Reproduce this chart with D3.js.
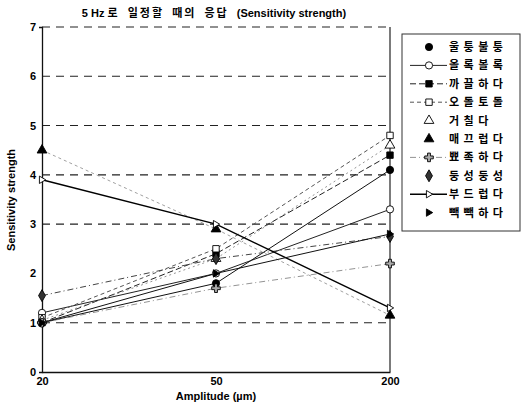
<!DOCTYPE html>
<html>
<head>
<meta charset="utf-8">
<script src="https://cdn.jsdelivr.net/npm/d3@7"></script>
<style>
  body { margin: 0; background: #fff; }
  svg { display: block; font-family: Arial, "Liberation Sans", "Noto Sans CJK KR", sans-serif; }
</style>
</head>
<body>
<svg id="chart" width="525" height="410"></svg>
<script>
// Amplitude levels (categorical axis)
const amplitudes = ["20", "50", "200"];
const yTicks = [0, 1, 2, 3, 4, 5, 6, 7];
const gridValues = [1, 3, 4, 5, 6, 7];

// Series names and their responses at 20, 50, 200 µm
const seriesNames = ["울퉁불퉁", "올록볼록", "까끌하다", "오돌토돌", "거칠다", "매끄럽다", "뾰족하다", "둥성둥성", "부드럽다", "빽빽하다"];
const bumpy    = [1.0, 1.8, 4.1];
const embossed = [1.2, 2.0, 3.3];
const rough1   = [1.0, 2.4, 4.4];
const grainy   = [1.1, 2.5, 4.8];
const coarse   = [1.05, 2.3, 4.6];
const smooth   = [4.5, 2.9, 1.15];
const pointy   = [1.0, 1.7, 2.2];
const sparse   = [1.55, 2.3, 2.75];
const soft     = [3.9, 3.0, 1.3];
const dense    = [1.0, 2.0, 2.8];
const seriesValues = [bumpy, embossed, rough1, grainy, coarse, smooth, pointy, sparse, soft, dense];

// Line / marker styling per series
const styles = [
  { sym: "circle",  fill: "#000", dash: null,    stroke: "#111", w: 1.0, legendLine: false },
  { sym: "circle",  fill: "#fff", dash: null,    stroke: "#222", w: 1.0, legendLine: true },
  { sym: "square",  fill: "#000", dash: "6,3",   stroke: "#222", w: 1.0, legendLine: true },
  { sym: "square",  fill: "#fff", dash: "4,3",   stroke: "#555", w: 1.0, legendLine: true },
  { sym: "triangle",fill: "#fff", dash: "2,3",   stroke: "#777", w: 0.8, legendLine: false },
  { sym: "triangle",fill: "#000", dash: "3,3",   stroke: "#888", w: 0.8, legendLine: false },
  { sym: "cross",   fill: "#aaa", dash: "6,3,1,3", stroke: "#777", w: 0.8, legendLine: true },
  { sym: "diamond", fill: "#333", dash: "6,3,1,3", stroke: "#444", w: 1.0, legendLine: false },
  { sym: "tright",  fill: "#fff", dash: null,    stroke: "#000", w: 1.4, legendLine: true },
  { sym: "tright",  fill: "#000", dash: null,    stroke: "#111", w: 1.0, legendLine: false }
];

const svg = d3.select("#chart");
const x = d3.scalePoint().domain(amplitudes).range([42, 390]);
const y = d3.scaleLinear().domain([0, 7]).range([372, 27]);

function markerPath(sym, size) {
  if (sym === "tright") {
    const r = size;
    return `M${-r * 0.7},${-r}L${r},0L${-r * 0.7},${r}Z`;
  }
  const map = { circle: d3.symbolCircle, square: d3.symbolSquare, triangle: d3.symbolTriangle, diamond: d3.symbolDiamond, cross: d3.symbolCross };
  return d3.symbol().type(map[sym]).size(size * size * 3)();
}

// Title: frequency, spaced Korean words, then the English part
const title = svg.append("text")
  .attr("x", 214).attr("y", 17)
  .attr("text-anchor", "middle")
  .attr("font-size", 11).attr("font-weight", "bold");
title.append("tspan").text("5 Hz ");
title.append("tspan").attr("letter-spacing", 2).attr("word-spacing", 3).text("로 일정할 때의 응답 ");
title.append("tspan").text("(Sensitivity strength)");

// Horizontal dashed grid
svg.append("g").selectAll("line").data(gridValues).join("line")
  .attr("x1", x("20")).attr("x2", x("200"))
  .attr("y1", d => y(d)).attr("y2", d => y(d))
  .attr("stroke", "#222").attr("stroke-width", 1.1)
  .attr("stroke-dasharray", "8,6");

// Axes
const yAxis = svg.append("g").attr("transform", `translate(${x("20")},0)`)
  .call(d3.axisLeft(y).tickValues(yTicks).tickSize(3).tickFormat(d3.format("d")));
const xAxis = svg.append("g").attr("transform", `translate(0,${y(0)})`)
  .call(d3.axisBottom(x).tickSize(0).tickPadding(5));
[yAxis, xAxis].forEach(a => {
  a.select(".domain").attr("stroke", "#111").attr("stroke-width", 1.3);
  a.selectAll("text").attr("font-size", 11).attr("font-weight", "bold").attr("fill", "#000")
    .attr("font-family", "Arial, 'Liberation Sans', sans-serif");
  a.selectAll(".tick line").attr("stroke", "#111");
});
yAxis.selectAll(".tick line").attr("x2", 0);
// Right frame edge
svg.append("line")
  .attr("x1", x("200")).attr("x2", x("200"))
  .attr("y1", y(7)).attr("y2", y(0))
  .attr("stroke", "#222").attr("stroke-width", 1.2);

// Axis labels
svg.append("text")
  .attr("x", 216).attr("y", 400)
  .attr("text-anchor", "middle").attr("font-size", 11).attr("font-weight", "bold")
  .text("Amplitude (µm)");
svg.append("text")
  .attr("transform", "translate(15,200) rotate(-90)")
  .attr("text-anchor", "middle").attr("font-size", 11).attr("font-weight", "bold")
  .text("Sensitivity strength");

// Series lines and markers
const line = d3.line().x((d, i) => x(amplitudes[i])).y(d => y(d));
const series = svg.append("g");
seriesValues.forEach((vals, k) => {
  const s = styles[k];
  series.append("path")
    .attr("d", line(vals))
    .attr("fill", "none")
    .attr("stroke", s.stroke).attr("stroke-width", s.w)
    .attr("stroke-dasharray", s.dash);
});
seriesValues.forEach((vals, k) => {
  const s = styles[k];
  series.append("g").selectAll("path").data(vals).join("path")
    .attr("transform", (d, i) => `translate(${x(amplitudes[i])},${y(d)})`)
    .attr("d", markerPath(s.sym, 3.7))
    .attr("fill", s.fill).attr("stroke", "#000").attr("stroke-width", 0.9);
});

// Legend
const legend = svg.append("g");
legend.append("rect")
  .attr("x", 402).attr("y", 34).attr("width", 118).attr("height", 197)
  .attr("fill", "#fff").attr("stroke", "#333").attr("stroke-width", 1);
seriesNames.forEach((name, k) => {
  const s = styles[k];
  const ly = 47 + k * 18.4;
  if (s.legendLine) {
    legend.append("line")
      .attr("x1", 410).attr("x2", 447).attr("y1", ly).attr("y2", ly)
      .attr("stroke", s.stroke).attr("stroke-width", s.w)
      .attr("stroke-dasharray", s.dash);
  }
  legend.append("path")
    .attr("transform", `translate(429,${ly})`)
    .attr("d", markerPath(s.sym, 3.7))
    .attr("fill", s.fill).attr("stroke", "#000").attr("stroke-width", 0.9);
  legend.append("text")
    .attr("x", 449).attr("y", ly + 4)
    .attr("font-size", 11).attr("font-weight", "bold")
    .attr("letter-spacing", 4.5)
    .text(name);
});
</script>
</body>
</html>
